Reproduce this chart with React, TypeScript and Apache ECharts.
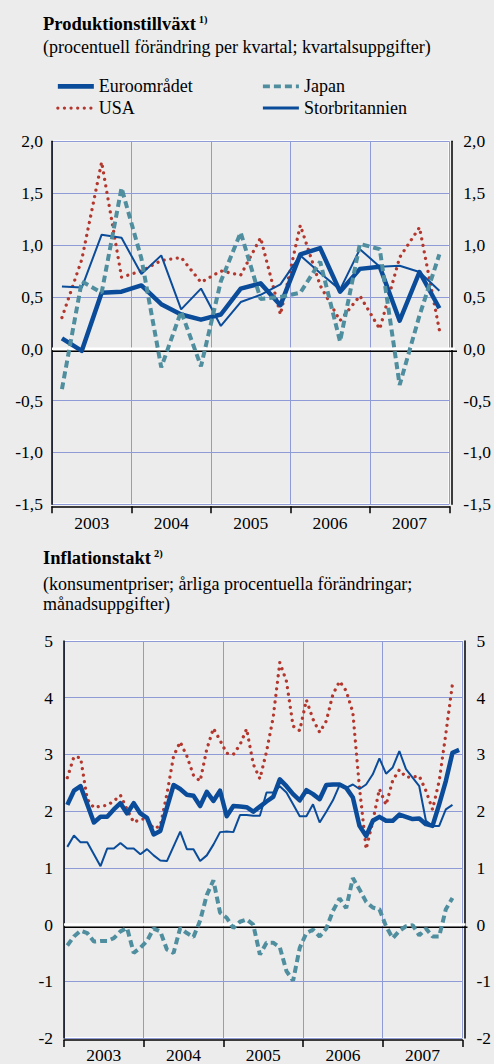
import React, { useEffect, useRef } from "react";
import * as echarts from "echarts";

// ---------- categories ----------
const years = ["2003", "2004", "2005", "2006", "2007"];
const quarterNames = ["kv1", "kv2", "kv3", "kv4"];
const monthNames = ["jan", "feb", "mar", "apr", "maj", "jun", "jul", "aug", "sep", "okt", "nov", "dec"];
const quarters = years.flatMap((y) => quarterNames.map((q) => `${q} ${y}`));
const months = years.flatMap((y) => monthNames.map((m) => `${m} ${y}`));

// ---------- Produktionstillväxt (quarterly, %) ----------
const gdpEuro = [0.10, -0.02, 0.54, 0.55, 0.61, 0.43, 0.33, 0.28, 0.33, 0.58, 0.63, 0.42, 0.91, 0.97, 0.55, 0.77, 0.79, 0.27, 0.74, 0.39];
const gdpUSA = [0.30, 0.86, 1.80, 0.69, 0.75, 0.85, 0.88, 0.64, 0.75, 0.71, 1.07, 0.33, 1.19, 0.61, 0.27, 0.51, 0.19, 0.88, 1.17, 0.18];
const gdpJapan = [-0.39, 0.65, 0.54, 1.55, 0.87, -0.18, 0.36, -0.17, 0.65, 1.12, 0.48, 0.50, 0.54, 0.84, 0.07, 1.01, 0.96, -0.35, 0.32, 0.91];
const gdpUK = [0.60, 0.59, 1.10, 1.07, 0.72, 0.90, 0.38, 0.58, 0.22, 0.45, 0.52, 0.62, 0.90, 0.73, 0.57, 0.96, 0.79, 0.80, 0.74, 0.56];

// ---------- Inflationstakt (monthly, %) ----------
const inflEuro = [2.11, 2.36, 2.44, 2.12, 1.80, 1.90, 1.90, 2.03, 2.14, 1.96, 2.14, 1.96,
  1.88, 1.59, 1.65, 2.06, 2.46, 2.39, 2.29, 2.27, 2.09, 2.34, 2.18, 2.36,
  1.91, 2.09, 2.08, 2.07, 1.99, 2.08, 2.17, 2.25, 2.56, 2.44, 2.30, 2.19,
  2.37, 2.30, 2.21, 2.46, 2.47, 2.47, 2.41, 2.24, 1.74, 1.56, 1.83, 1.90,
  1.83, 1.83, 1.94, 1.90, 1.86, 1.87, 1.77, 1.74, 2.12, 2.53, 3.03, 3.08];
const inflUSA = [2.59, 2.96, 2.94, 2.21, 2.06, 2.09, 2.10, 2.18, 2.28, 2.03, 1.80, 1.86,
  1.86, 1.69, 1.74, 2.30, 2.97, 3.22, 2.97, 2.63, 2.53, 3.09, 3.46, 3.25,
  3.02, 3.00, 3.17, 3.45, 2.83, 2.57, 3.05, 3.65, 4.62, 4.29, 3.50, 3.42,
  3.96, 3.62, 3.39, 3.59, 4.06, 4.29, 4.12, 3.74, 2.41, 1.33, 1.82, 2.39,
  2.11, 2.54, 2.73, 2.60, 2.60, 2.62, 2.36, 2.03, 2.53, 3.36, 4.24, null];
const inflJapan = [-0.37, -0.21, -0.11, -0.15, -0.30, -0.29, -0.29, -0.24, -0.12, -0.06, -0.50, -0.41,
  -0.29, -0.07, -0.12, -0.44, -0.50, -0.06, -0.15, -0.22, 0.07, 0.52, 0.78, 0.21,
  0.12, -0.06, 0.05, 0.09, 0.00, -0.53, -0.32, -0.32, -0.40, -0.82, -0.99, -0.41,
  -0.15, -0.09, -0.21, -0.07, 0.24, 0.46, 0.29, 0.82, 0.62, 0.40, 0.30, 0.27,
  -0.03, -0.24, -0.11, -0.03, -0.01, -0.19, -0.07, -0.21, -0.21, 0.27, 0.47, null];
const inflUK = [1.37, 1.57, 1.45, 1.45, 1.24, 1.03, 1.34, 1.34, 1.44, 1.34, 1.34, 1.24,
  1.33, 1.22, 1.13, 1.12, 1.38, 1.64, 1.33, 1.33, 1.12, 1.22, 1.41, 1.63,
  1.64, 1.63, 1.93, 1.93, 1.92, 1.92, 2.33, 2.33, 2.44, 2.33, 2.12, 1.91,
  1.91, 2.12, 1.80, 1.99, 2.19, 2.46, 2.41, 2.47, 2.39, 2.47, 2.65, 2.93,
  2.66, 2.77, 3.06, 2.74, 2.59, 2.44, 1.83, 1.74, 1.74, 2.03, 2.11, null];

const seriesNames = ["Euroområdet", "USA", "Japan", "Storbritannien"];

// ---------- styles ----------
const FONT = "'Liberation Serif', 'Times New Roman', serif";
const BG = "#ececec";
const GRIDC = "#8f9bd6";
const BLUE = "#0a4c9a";
const RED = "#b3372d";
const TEAL = "#4f8e9e";
const TICK_FS = 17.5;
const TEXT_FS = 18;

const G1 = { left: 52, top: 141.3, width: 403, height: 363 };
const G2 = { left: 64, top: 641, width: 401.5, height: 397.3 };

const fmtDec = (v: number) => v.toFixed(1).replace(".", ",");
const fmtInt = (v: number) => String(Math.round(v));

function makeYAxes(gridIndex: number, min: number, max: number, interval: number, fmt: (v: number) => string, lm: number, rm: number) {
  const common = {
    gridIndex, type: "value", min, max, interval,
    axisTick: { show: false },
    axisLine: { show: true, onZero: false, lineStyle: { color: "#000", width: 1.5 } },
    axisLabel: { formatter: fmt, color: "#000", fontFamily: FONT, fontSize: TICK_FS },
  };
  return [
    { ...common, position: "left", splitLine: { show: true, lineStyle: { color: GRIDC, width: 1 } }, axisLabel: { ...common.axisLabel, margin: lm } },
    { ...common, position: "right", offset: 2, splitLine: { show: false }, axisLabel: { ...common.axisLabel, margin: rm } },
  ];
}

function makeXAxes(gridIndex: number, sub: string[], margin: number) {
  return [
    {
      gridIndex, type: "category", data: years, position: "bottom", offset: 2, boundaryGap: true,
      axisLine: { show: true, onZero: false, lineStyle: { color: "#000", width: 1.5 } },
      axisTick: { show: true, length: 7, lineStyle: { color: "#000", width: 1.5 } },
      axisLabel: { color: "#000", fontFamily: FONT, fontSize: TICK_FS, margin },
      splitLine: { show: true, lineStyle: { color: GRIDC, width: 1 } },
    },
    { gridIndex, type: "category", data: sub, boundaryGap: true, show: false },
  ];
}

function makeSeries(xi: number, yi: number, euro: (number | null)[], usa: (number | null)[], jp: (number | null)[], uk: (number | null)[]) {
  const base = { type: "line", xAxisIndex: xi, yAxisIndex: yi, symbol: "none", showSymbol: false, silent: true };
  return [
    { ...base, name: seriesNames[0], data: euro, z: 4, itemStyle: { color: BLUE }, lineStyle: { color: BLUE, width: 4.5, join: "round" } },
    { ...base, name: seriesNames[3], data: uk, z: 5, itemStyle: { color: BLUE }, lineStyle: { color: BLUE, width: 2 } },
    { ...base, name: seriesNames[1], data: usa, z: 3, itemStyle: { color: RED }, lineStyle: { color: RED, width: 3.3, type: [0.01, 6.6], cap: "round" } },
    { ...base, name: seriesNames[2], data: jp, z: 6, itemStyle: { color: TEAL }, lineStyle: { color: TEAL, width: 4, type: [7, 4] } },
  ];
}

const titleText = (t: string, s: string) => ({
  text: `{t|${t}}{s|${s}}`,
  padding: 0,
  textStyle: {
    rich: {
      t: { fontFamily: FONT, fontSize: 18.5, fontWeight: "bold", color: "#000", lineHeight: 20 },
      s: { fontFamily: FONT, fontSize: 10.5, fontWeight: "bold", color: "#000", verticalAlign: "top", padding: [0, 0, 0, 3], lineHeight: 20 },
    },
  },
});

const subStyle = { fontFamily: FONT, fontSize: 18, fontWeight: "normal", color: "#000" };

const legendBase = {
  orient: "vertical", top: 70.5, itemWidth: 36, itemHeight: 14, itemGap: 0, selectedMode: false,
  itemStyle: { opacity: 0 },
  textStyle: { fontFamily: FONT, fontSize: TEXT_FS, color: "#000", lineHeight: 21.7, padding: [0, 0, 0, 0] },
};

export default function App() {
  const ref = useRef<HTMLDivElement>(null);
  useEffect(() => {
    if (!ref.current) return;
    const chart = echarts.init(ref.current, null, { renderer: "svg" });
    const option: any = {
      animation: false,
      backgroundColor: BG,
      title: [
        { left: 43, top: 13.5, ...titleText("Produktionstillväxt", "1)") },
        { left: 43, top: 37.5, padding: 0, text: "(procentuell förändring per kvartal; kvartalsuppgifter)", textStyle: { fontFamily: FONT, fontSize: TEXT_FS, fontWeight: "normal", color: "#000" } },
        { left: 43, top: 547.5, ...titleText("Inflationstakt", "2)") },
        { left: 43, top: 574.5, padding: 0, text: "(konsumentpriser; årliga procentuella förändringar;", textStyle: subStyle },
        { left: 43, top: 595.2, padding: 0, text: "månadsuppgifter)", textStyle: subStyle },
      ],
      legend: [
        {
          ...legendBase, left: 50.5,
          data: [
            { name: "Euroområdet", lineStyle: { width: 4.7 } },
            { name: "USA", lineStyle: { width: 3.3 } },
          ],
        },
        {
          ...legendBase, left: 256,
          data: [
            { name: "Japan", lineStyle: { width: 3.8 } },
            { name: "Storbritannien", lineStyle: { width: 3 } },
          ],
        },
      ],
      grid: [
        { ...G1, show: true, borderColor: "#ffffff", borderWidth: 2, backgroundColor: "transparent", containLabel: false },
        { ...G2, show: true, borderColor: "#ffffff", borderWidth: 2, backgroundColor: "transparent", containLabel: false },
      ],
      xAxis: [...makeXAxes(0, quarters, 8), ...makeXAxes(1, months, 6)],
      yAxis: [...makeYAxes(0, -1.5, 2, 0.5, fmtDec, 9, 12), ...makeYAxes(1, -2, 5, 1, fmtInt, 11, 12)],
      series: [
        ...makeSeries(1, 0, gdpEuro, gdpUSA, gdpJapan, gdpUK),
        ...makeSeries(3, 2, inflEuro, inflUSA, inflJapan, inflUK),
      ],
    };
    chart.setOption(option);
    const y0a = chart.convertToPixel({ yAxisIndex: 0 } as any, 0) as number;
    const y0b = chart.convertToPixel({ yAxisIndex: 2 } as any, 0) as number;
    const zeroLines = (g: typeof G1, y: number) => [
      { type: "line", z: 1, shape: { x1: g.left, y1: y, x2: g.left + g.width, y2: y }, style: { stroke: "#ffffff", lineWidth: 2.5 } },
      { type: "line", z: 1, shape: { x1: g.left, y1: y + 2.6, x2: g.left + g.width + 2, y2: y + 2.6 }, style: { stroke: "#000000", lineWidth: 1.5 } },
    ];
    chart.setOption({ graphic: [...zeroLines(G1, y0a), ...zeroLines(G2, y0b)] });
    return () => chart.dispose();
  }, []);
  return (
    <div
      ref={ref}
      style={{ position: "absolute", left: 0, top: 0, width: 494, height: 1064, background: BG }}
    />
  );
}
